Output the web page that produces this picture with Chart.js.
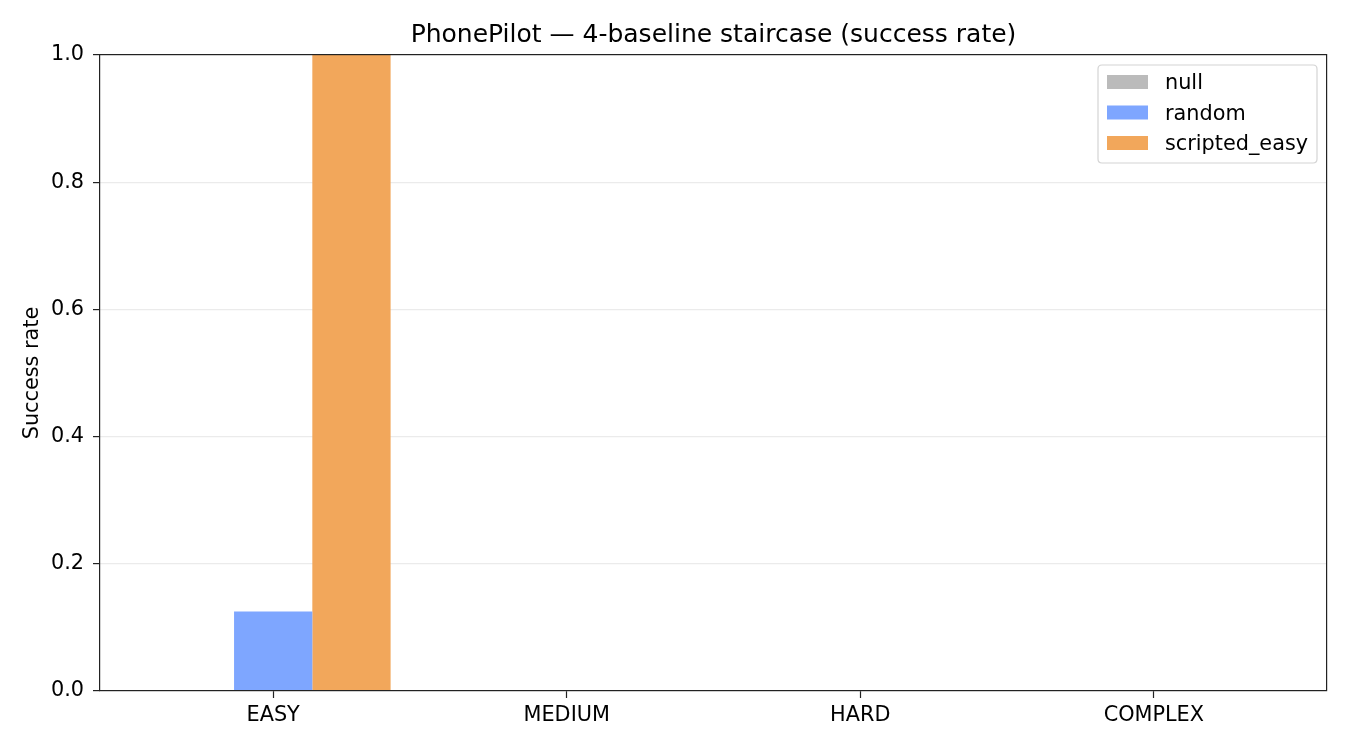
<!DOCTYPE html>
<html>
<head>
<meta charset="utf-8">
<script src="https://cdn.jsdelivr.net/npm/chart.js@4/dist/chart.umd.min.js"></script>
<style>
  html, body { margin: 0; padding: 0; background: #ffffff; }
  #wrap { position: relative; width: 1350px; height: 750px; }
  canvas { display: block; }
</style>
</head>
<body>
<div id="wrap"><canvas id="c" width="1350" height="750"></canvas></div>
<script>
// ---- data ----
const categories = ['EASY', 'MEDIUM', 'HARD', 'COMPLEX'];
const seriesNames = ['null', 'random', 'scripted_easy'];
const nullValues = [0, 0, 0, 0];
const randomValues = [0.125, 0, 0, 0];
const scriptedEasyValues = [1.0, 0, 0, 0];
const yTickValues = [0, 0.2, 0.4, 0.6, 0.8, 1.0];
const chartTitle = 'PhonePilot — 4-baseline staircase (success rate)';
const yAxisLabel = 'Success rate';

// ---- styles ----
const seriesColors = ['#bbbbbb', '#7ea6ff', '#f2a75b'];
const FONT = '"DejaVu Sans", "Liberation Sans", sans-serif';

function toPoints(vals) { return vals.map((v, i) => ({ x: i, y: v })); }

const frameAndDecor = {
  id: 'frameAndDecor',
  afterDatasetsDraw(chart) {
    const { ctx, chartArea: a } = chart;
    ctx.save();
    // full frame (spines), aligned with the tick marks
    ctx.strokeStyle = '#222222';
    ctx.lineWidth = 1.2;
    const top = a.top - 0.4, bottom = a.bottom - 0.4, left = a.left - 0.4, right = a.right - 0.4;
    ctx.strokeRect(left, top, right - left, bottom - top);
    // title
    ctx.fillStyle = '#000000';
    ctx.font = '25px ' + FONT;
    ctx.textAlign = 'center';
    ctx.textBaseline = 'alphabetic';
    ctx.fillText(chartTitle, (a.left + a.right) / 2, 42);
    // legend
    const bx = a.right - 229, by = a.top + 10, bw = 219, bh = 98;
    const r = 4;
    ctx.beginPath();
    ctx.moveTo(bx + r, by);
    ctx.lineTo(bx + bw - r, by);
    ctx.quadraticCurveTo(bx + bw, by, bx + bw, by + r);
    ctx.lineTo(bx + bw, by + bh - r);
    ctx.quadraticCurveTo(bx + bw, by + bh, bx + bw - r, by + bh);
    ctx.lineTo(bx + r, by + bh);
    ctx.quadraticCurveTo(bx, by + bh, bx, by + bh - r);
    ctx.lineTo(bx, by + r);
    ctx.quadraticCurveTo(bx, by, bx + r, by);
    ctx.closePath();
    ctx.fillStyle = 'rgba(255,255,255,0.8)';
    ctx.fill();
    ctx.strokeStyle = '#d4d4d4';
    ctx.lineWidth = 1.2;
    ctx.stroke();
    ctx.font = '20.8px ' + FONT;
    ctx.textAlign = 'left';
    ctx.textBaseline = 'alphabetic';
    chart.data.datasets.forEach((ds, i) => {
      const cy = by + 17 + i * 30.5;
      ctx.fillStyle = ds.backgroundColor;
      ctx.fillRect(bx + 9, cy - 7, 41, 14);
      ctx.fillStyle = '#000000';
      ctx.fillText(ds.label, bx + 67, cy + 7.3);
    });
    ctx.restore();
  }
};

new Chart(document.getElementById('c'), {
  type: 'bar',
  data: {
    datasets: [
      { label: seriesNames[0], data: toPoints(nullValues), backgroundColor: seriesColors[0] },
      { label: seriesNames[1], data: toPoints(randomValues), backgroundColor: seriesColors[1] },
      { label: seriesNames[2], data: toPoints(scriptedEasyValues), backgroundColor: seriesColors[2] }
    ]
  },
  options: {
    responsive: false,
    animation: false,
    devicePixelRatio: 1,
    layout: { padding: { left: 0, right: 23, top: 55, bottom: 0 } },
    datasets: { bar: { categoryPercentage: 0.8, barPercentage: 1.0, borderWidth: 0 } },
    plugins: {
      legend: { display: false },
      title: { display: false },
      tooltip: { enabled: false }
    },
    scales: {
      x: {
        type: 'linear',
        min: -0.59,
        max: 3.59,
        offset: false,
        afterBuildTicks(axis) { axis.ticks = categories.map((_, i) => ({ value: i })); },
        afterFit(scale) { scale.height = 59; },
        grid: { display: true, offset: false, drawOnChartArea: false, drawTicks: true, tickLength: 7, tickColor: '#222222', tickWidth: 1.2 },
        border: { display: false },
        ticks: {
          autoSkip: false, maxRotation: 0, padding: 5,
          color: '#000000', font: { family: FONT, size: 20.8 },
          callback: (v) => categories[Math.round(v)]
        }
      },
      y: {
        min: 0,
        max: 1,
        afterBuildTicks(axis) { axis.ticks = yTickValues.map(v => ({ value: v })); },
        afterFit(scale) { scale.width = 100; },
        grid: { display: true, drawOnChartArea: true, drawTicks: true, tickLength: 7, color: '#ebebeb', lineWidth: 1.2, tickColor: '#222222', tickWidth: 1.2 },
        border: { display: false },
        ticks: {
          padding: 9, color: '#000000', font: { family: FONT, size: 20.8 },
          callback: (v) => v.toFixed(1)
        },
        title: {
          display: true, text: yAxisLabel, color: '#000000',
          font: { family: FONT, size: 20.8 }, padding: { top: 20, bottom: 0 }
        }
      }
    }
  },
  plugins: [frameAndDecor]
});
</script>
</body>
</html>
